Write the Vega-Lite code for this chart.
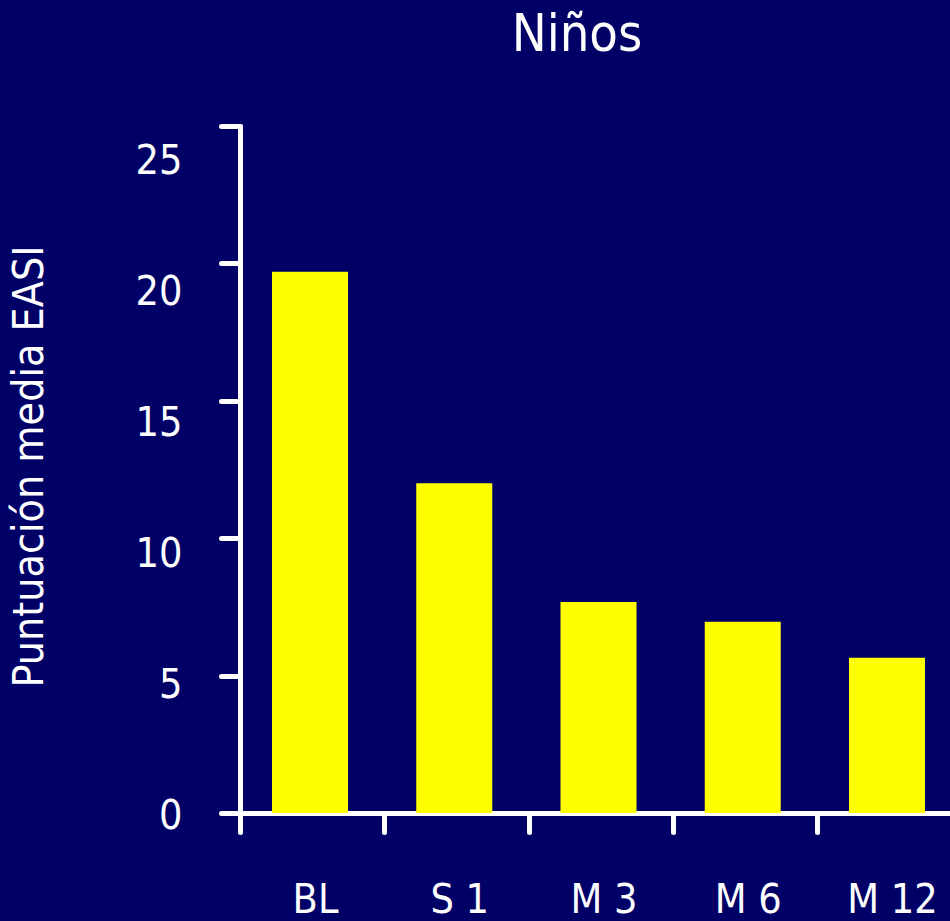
{
  "$schema": "https://vega.github.io/schema/vega-lite/v6.json",
  "autosize": {"type": "none"},
  "padding": {"left": 240, "top": 126, "right": 0, "bottom": 108},
  "width": 710,
  "height": 687,
  "background": "#000066",
  "title": {
    "text": "Niños",
    "font": "DejaVu Sans Condensed",
    "fontSize": 52,
    "fontWeight": "normal",
    "color": "#ffffff",
    "anchor": "middle",
    "dx": -18,
    "offset": 62
  },
  "data": {
    "values": [
      {"visita": "BL", "easi": 19.7},
      {"visita": "S 1", "easi": 12.0},
      {"visita": "M 3", "easi": 7.68},
      {"visita": "M 6", "easi": 6.96},
      {"visita": "M 12", "easi": 5.65}
    ]
  },
  "mark": {"type": "bar", "color": "#ffff00"},
  "encoding": {
    "x": {
      "field": "visita",
      "type": "nominal",
      "sort": null,
      "scale": {"range": [0, 717], "paddingInner": 0.473, "paddingOuter": 0.222},
      "axis": {
        "title": null,
        "domainColor": "#ffffff",
        "domainWidth": 5,
        "domainCap": "round",
        "tickColor": "#ffffff",
        "tickWidth": 5,
        "tickCap": "round",
        "tickSize": 19,
        "tickOffset": -70,
        "labelOffset": 75,
        "labelColor": "#ffffff",
        "labelFont": "DejaVu Sans Condensed",
        "labelFontSize": 41,
        "labelAngle": 0,
        "labelBaseline": "alphabetic",
        "labelPadding": 80
      }
    },
    "y": {
      "field": "easi",
      "type": "quantitative",
      "scale": {"domain": [0, 25], "nice": false},
      "axis": {
        "title": "Puntuación media EASI",
        "titleColor": "#ffffff",
        "titleFont": "DejaVu Sans Condensed",
        "titleFontSize": 42.5,
        "titleFontWeight": "normal",
        "titleAngle": -90,
        "titleAlign": "center",
        "titleBaseline": "alphabetic",
        "titleX": -198,
        "titleY": 340,
        "values": [0, 5, 10, 15, 20, 25],
        "grid": false,
        "domainColor": "#ffffff",
        "domainWidth": 5,
        "domainCap": "round",
        "tickColor": "#ffffff",
        "tickWidth": 5,
        "tickCap": "round",
        "tickSize": 19,
        "labelColor": "#ffffff",
        "labelFont": "DejaVu Sans Condensed",
        "labelFontSize": 41,
        "labelPadding": 39,
        "labelBaseline": "middle",
        "labelOffset": {"expr": "3 + 1.3 * datum.value"}
      }
    }
  },
  "config": {
    "view": {"stroke": null}
  }
}
